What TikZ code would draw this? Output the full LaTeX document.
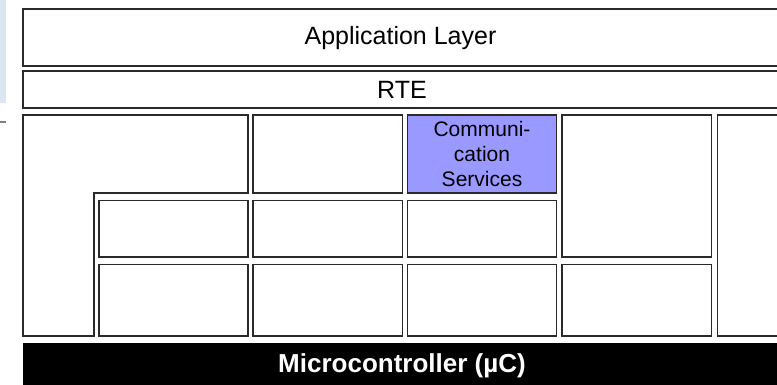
\documentclass[tikz,border=0pt]{standalone}
\usepackage{fontspec}
\setmainfont{Liberation Sans}
\definecolor{comfill}{HTML}{9999FF}
\definecolor{strip}{HTML}{DCE6F2}
\definecolor{edge}{HTML}{2A2A2A}
\begin{document}
\begin{tikzpicture}[x=1bp,y=-1bp,
  cell/.style={draw=edge,line width=1.6bp,fill=white},
  lbl/.style={inner sep=0pt,font=\fontsize{25bp}{30bp}\selectfont},
]
\useasboundingbox (0,0) rectangle (777,384);
% remnants at left edge
\fill[strip] (0,0) rectangle (6,103);
\draw[gray,line width=2bp] (0,122) -- (6,122);
\newcommand\cellbox[6][]{%
  \path[cell,#1] (#3,#4) rectangle (#5,#6) coordinate (#2-se);
  \coordinate (#2) at ({(#3+#5)/2},{(#4+#6)/2});}
% layers
\cellbox{app}{23}{9}{790}{66}
\node[lbl] (applbl) at (400.5,38) {Application Layer};
\cellbox{rte}{23}{71}{790}{108}
\node[lbl] (rtelbl) at (402,90) {RTE};
% L-shaped block
\draw[cell] (23,115) -- (248,115) -- (248,193) -- (94,193) -- (94,336) -- (23,336) -- cycle;
% column 2
\cellbox{ctwob}{99}{200.5}{248}{257}
\cellbox{ctwoc}{99}{264.5}{248}{336}
% column 3
\cellbox{cthra}{253}{115}{402.5}{193}
\cellbox{cthrb}{253}{200.5}{402.5}{257}
\cellbox{cthrc}{253}{264.5}{402.5}{336}
% column 4
\cellbox[fill=comfill]{com}{407.5}{115}{556.5}{193}
\node[inner sep=0pt,align=center,font=\fontsize{21bp}{25bp}\selectfont] (comlbl) at (com) {Communi-\\cation\\Services};
\cellbox{cfourb}{407.5}{200.5}{556.5}{257}
\cellbox{cfourc}{407.5}{264.5}{556.5}{336}
% column 5
\cellbox{cfivea}{562}{115}{711.5}{257}
\cellbox{cfivec}{562}{264.5}{711.5}{336}
% column 6
\cellbox{csix}{717.5}{115}{790}{336}
% microcontroller
\fill[black] (23,342.5) rectangle (790,390);
\node[inner sep=0pt,text=white,font=\fontsize{26bp}{30bp}\selectfont\bfseries] (mclbl) at (402,366) {Microcontroller (µC)};
\end{tikzpicture}
\end{document}
